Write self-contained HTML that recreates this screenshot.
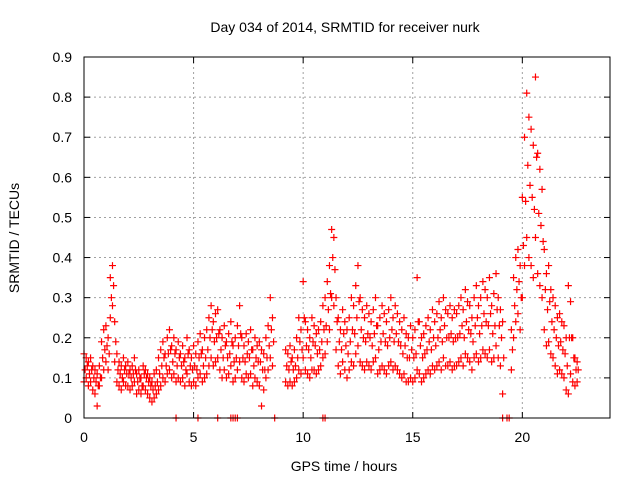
<!DOCTYPE html>
<html><head><meta charset="utf-8"><style>
body{margin:0;background:#fff}
svg{display:block;font-family:"Liberation Sans",sans-serif}
</style></head><body>
<svg id="c" width="640" height="480">
<rect width="640" height="480" fill="#fff"/>
<text x="345" y="32" font-size="14" text-anchor="middle" fill="#000">Day 034 of 2014, SRMTID for receiver nurk</text>
<text x="344" y="471" font-size="14" text-anchor="middle">GPS time / hours</text>
<text transform="translate(19,238) rotate(-90)" font-size="14" text-anchor="middle">SRMTID / TECUs</text>
<g id="grid"></g><g id="ticks"></g><g id="pts"></g>
<rect x="84" y="57" width="526" height="361" fill="none" stroke="#000"/>
</svg>
<script>
const xTicks=[0,5,10,15,20];
const yTicks=[0,0.1,0.2,0.3,0.4,0.5,0.6,0.7,0.8,0.9];
const yTickLabels=["0","0.1","0.2","0.3","0.4","0.5","0.6","0.7","0.8","0.9"];
const stepHours=0.1;
const srmtidHigh=[0.16,0.15,0.14,0.15,0.13,0.12,0.11,0.13,0.19,0.22,
0.23,0.20,0.35,0.38,0.24,0.16,0.14,0.13,0.15,0.13,
0.14,0.12,0.13,0.15,0.11,0.12,0.10,0.13,0.12,0.11,
0.10,0.09,0.11,0.12,0.15,0.17,0.19,0.16,0.20,0.22,
0.18,0.20,0.17,0.19,0.16,0.18,0.15,0.20,0.17,0.15,
0.18,0.16,0.19,0.21,0.17,0.20,0.22,0.25,0.28,0.24,
0.26,0.27,0.22,0.20,0.23,0.19,0.21,0.24,0.18,0.20,
0.23,0.28,0.20,0.18,0.21,0.19,0.22,0.17,0.20,0.18,
0.19,0.17,0.16,0.20,0.23,0.30,0.25,null,null,null,
null,null,0.17,0.16,0.18,0.15,0.17,0.20,0.25,0.22,
0.34,0.24,0.22,0.20,0.25,0.23,0.21,0.22,0.24,0.28,
0.30,0.34,0.38,0.47,0.45,0.30,0.25,0.22,0.27,0.24,
0.22,0.25,0.30,0.28,0.33,0.38,0.30,0.27,0.25,0.28,
0.26,0.24,0.27,0.30,0.23,0.25,0.28,0.26,0.24,0.27,
0.30,0.25,0.28,0.26,0.24,0.22,0.25,0.21,0.20,0.23,
0.20,0.22,0.35,0.24,0.20,0.21,0.23,0.25,0.22,0.27,
0.24,0.26,0.29,0.25,0.30,0.27,0.26,0.28,0.25,0.27,
0.26,0.28,0.30,0.27,0.32,0.29,0.28,0.25,0.30,0.33,
0.28,0.30,0.34,0.32,0.30,0.35,0.28,0.31,0.36,0.30,
0.27,0.24,null,null,null,0.22,0.35,0.40,0.42,0.38,
0.55,0.70,0.81,0.75,0.72,0.68,0.85,0.66,0.62,0.57,
0.42,0.36,0.38,0.32,0.30,0.28,0.25,0.26,0.24,0.23,
0.20,0.33,0.29,0.20,0.15,0.14];
const srmtidMid=[0.12,0.13,0.11,0.12,0.10,0.09,0.08,0.10,0.15,0.17,
0.18,0.16,0.30,0.33,0.19,0.12,0.11,0.10,0.12,0.11,
0.11,0.10,0.11,0.12,0.09,0.10,0.08,0.11,0.10,0.09,
0.08,0.07,0.08,0.09,0.11,0.13,0.15,0.13,0.16,0.17,
0.14,0.16,0.13,0.15,0.13,0.14,0.12,0.16,0.13,0.12,
0.13,0.12,0.15,0.16,0.13,0.15,0.17,0.20,0.22,0.19,
0.20,0.21,0.17,0.15,0.18,0.15,0.16,0.19,0.14,0.15,
0.18,0.21,0.15,0.14,0.16,0.15,0.17,0.13,0.15,0.14,
0.14,0.12,0.12,0.15,0.18,0.22,0.19,null,null,null,
null,null,0.13,0.12,0.14,0.12,0.13,0.15,0.19,0.17,
0.25,0.18,0.17,0.15,0.19,0.18,0.16,0.17,0.19,0.22,
0.23,0.27,0.31,0.40,0.37,0.24,0.19,0.17,0.21,0.18,
0.16,0.19,0.22,0.21,0.25,0.29,0.22,0.20,0.19,0.21,
0.20,0.18,0.21,0.23,0.17,0.19,0.21,0.19,0.18,0.20,
0.22,0.19,0.21,0.19,0.18,0.16,0.18,0.15,0.15,0.17,
0.15,0.16,0.24,0.18,0.15,0.16,0.17,0.19,0.17,0.20,
0.18,0.20,0.22,0.19,0.23,0.20,0.20,0.21,0.19,0.20,
0.20,0.21,0.23,0.20,0.24,0.22,0.21,0.19,0.23,0.25,
0.21,0.23,0.26,0.24,0.23,0.26,0.21,0.23,0.27,0.23,
0.20,0.15,null,null,null,0.17,0.28,0.32,0.34,0.30,
0.43,0.54,0.63,0.58,0.55,0.52,0.65,0.51,0.48,0.44,
0.32,0.27,0.29,0.24,0.22,0.20,0.18,0.19,0.17,0.16,
0.13,0.20,0.20,0.15,0.12,0.12];
const srmtidLow=[0.09,0.10,0.08,0.09,0.07,0.06,0.03,0.08,0.10,0.12,
0.14,0.12,0.25,0.28,0.14,0.09,0.08,0.07,0.09,0.08,
0.08,0.07,0.08,0.09,0.06,0.07,0.06,0.08,0.07,0.06,
0.05,0.04,0.05,0.06,0.07,0.08,0.10,0.09,0.11,0.12,
0.10,0.11,0.09,0.10,0.09,0.10,0.08,0.11,0.09,0.08,
0.09,0.08,0.10,0.11,0.09,0.10,0.11,0.13,0.15,0.13,
0.14,0.15,0.12,0.10,0.12,0.10,0.11,0.13,0.09,0.10,
0.12,0.14,0.10,0.09,0.11,0.10,0.11,0.08,0.10,0.09,
0.08,0.03,0.07,0.10,0.12,0.15,0.13,null,null,null,
null,null,0.09,0.08,0.09,0.08,0.09,0.10,0.12,0.11,
0.15,0.12,0.11,0.10,0.12,0.12,0.11,0.12,0.13,0.15,
0.16,0.19,0.22,0.30,0.28,0.17,0.13,0.11,0.14,0.12,
0.10,0.12,0.14,0.13,0.16,0.18,0.14,0.13,0.12,0.14,
0.13,0.12,0.14,0.15,0.11,0.12,0.13,0.12,0.11,0.13,
0.14,0.12,0.13,0.12,0.11,0.10,0.11,0.09,0.09,0.10,
0.09,0.10,0.12,0.11,0.09,0.10,0.11,0.12,0.11,0.13,
0.12,0.13,0.14,0.12,0.15,0.13,0.13,0.14,0.12,0.13,
0.13,0.14,0.15,0.13,0.16,0.15,0.14,0.12,0.15,0.16,
0.14,0.15,0.17,0.16,0.15,0.17,0.14,0.15,0.18,0.15,
0.13,0.06,null,null,null,0.12,0.20,0.24,0.26,0.22,
0.30,0.38,0.45,0.40,0.38,0.35,0.45,0.36,0.33,0.30,
0.22,0.18,0.19,0.16,0.15,0.13,0.11,0.12,0.11,0.10,
0.07,0.06,0.11,0.09,0.08,0.09];
const zeroTimes=[4.2,5.2,6.1,6.7,6.8,6.9,7.0,8.7,10.9,11.0,19.1,19.3,19.4];
const NS="http://www.w3.org/2000/svg";
const X=h=>84+h*(526/24), Y=v=>418-v*(361/0.9);
function mk(t,a,p){const e=document.createElementNS(NS,t);for(const k in a)e.setAttribute(k,a[k]);p.appendChild(e);return e;}
const grid=document.getElementById('grid'),ticks=document.getElementById('ticks'),pts=document.getElementById('pts');
xTicks.forEach(t=>{const x=X(t);
 if(t>0){const l=mk('line',{x1:x,x2:x,y1:57,y2:418,stroke:'#a0a0a0','stroke-dasharray':'2,3'},grid);
 }
 mk('line',{x1:x,x2:x,y1:418,y2:412,stroke:'#000'},ticks);mk('line',{x1:x,x2:x,y1:57,y2:63,stroke:'#000'},ticks);
 const tx=mk('text',{x:x,y:442,'font-size':14,'text-anchor':'middle'},ticks);tx.textContent=t;
 });
yTicks.forEach((t,i)=>{const y=Y(t);
 if(t>0&&t<0.9){const l=mk('line',{x1:84,x2:610,y1:y,y2:y,stroke:'#a0a0a0','stroke-dasharray':'2,3'},grid);
 }
 mk('line',{x1:84,x2:90,y1:y,y2:y,stroke:'#000'},ticks);mk('line',{x1:604,x2:610,y1:y,y2:y,stroke:'#000'},ticks);
 const tx=mk('text',{x:72,y:y+5,'font-size':14,'text-anchor':'end'},ticks);tx.textContent=yTickLabels[i];
 });
let d='';
function plus(h,v){const x=X(h),y=Y(v);d+=`M${x-3.5} ${y}h7M${x} ${y-3.5}v7`;}
srmtidHigh.forEach((v,i)=>{if(v!==null)plus(i*stepHours,v);});
srmtidLow.forEach((v,i)=>{if(v!==null)plus(i*stepHours,v);});
srmtidMid.forEach((v,i)=>{if(v!==null)plus(i*stepHours+0.05,v);});
zeroTimes.forEach(h=>plus(h,0));
const p=mk('path',{d:d,stroke:'#ff0000','stroke-width':1.2,fill:'none'},pts);


</script>
</body></html>
